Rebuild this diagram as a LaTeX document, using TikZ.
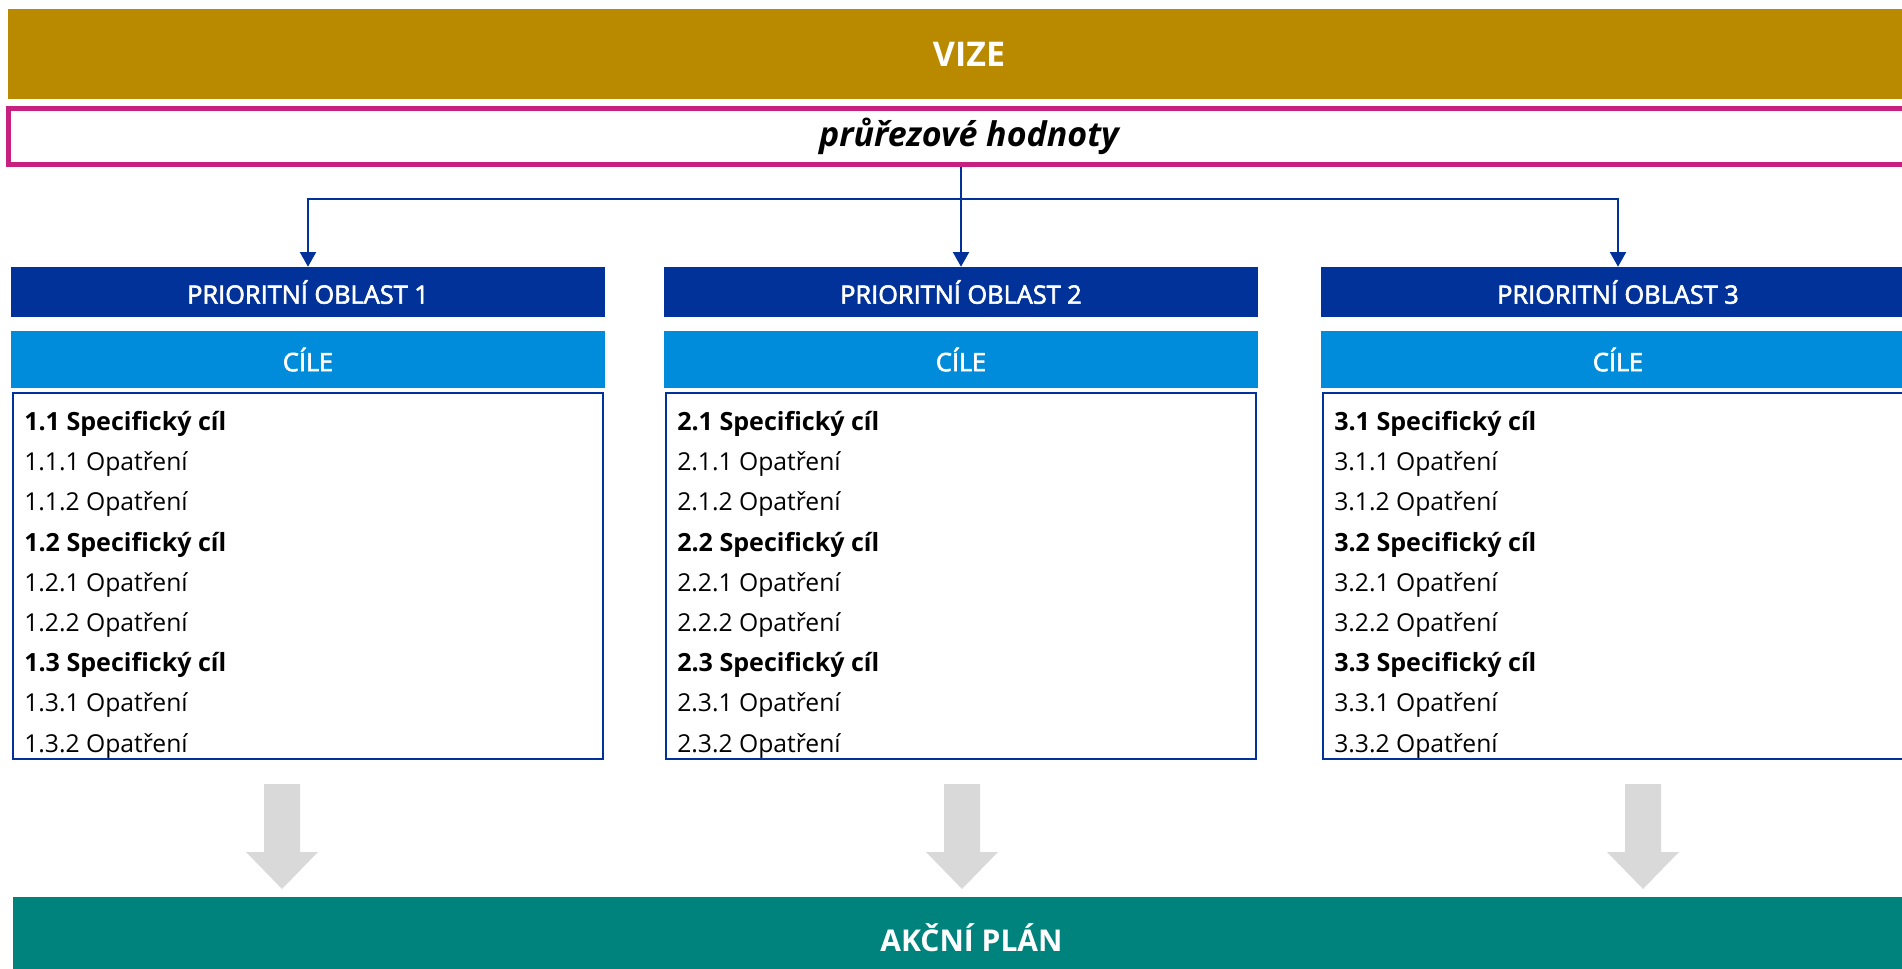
\documentclass[tikz,border=0pt]{standalone}
\usepackage{fontspec}
\setmainfont{Open Sans}
\newfontfamily\semibold[FakeBold=2.5]{Open Sans}
\usetikzlibrary{positioning}
\usetikzlibrary{arrows.meta}
\definecolor{vizegold}{RGB}{185,138,0}
\definecolor{hodnotypink}{RGB}{200,32,128}
\definecolor{oblastblue}{RGB}{0,50,153}
\definecolor{cileblue}{RGB}{0,140,218}
\definecolor{akcniteal}{RGB}{0,130,125}
\definecolor{arrowgrey}{RGB}{217,217,217}
\newcommand{\greyarrow}[1]% centre x
{(#1-18,784) -- (#1+18,784) -- (#1+18,852) -- (#1+36,852) -- (#1,889) -- (#1-36,852) -- (#1-18,852) -- cycle
}

\begin{document}
\begin{tikzpicture}[x=0.75pt,y=-0.75pt] % 1 unit = 1 px
\tikzstyle{bar}=[shape=rectangle,inner sep=0pt,minimum height=67.5pt,text=white,font=\bfseries\fontsize{25.5}{30}\selectfont]
\tikzstyle{po}=[shape=rectangle,inner sep=0pt,fill=oblastblue,minimum width=445.5pt,minimum height=37.5pt,text=white,font=\semibold\fontsize{19}{23}\selectfont]
\tikzstyle{cile}=[po,fill=cileblue,minimum height=42.75pt]
\tikzstyle{obsah}=[shape=rectangle,inner sep=0pt,draw=oblastblue,line width=1.5pt,minimum width=443pt,minimum height=274.5pt]
\tikzstyle{opatreni}=[anchor=west,inner sep=0pt,font=\fontsize{18.5}{22}\selectfont]
\tikzstyle{cil}=[opatreni,font=\bfseries\fontsize{18.8}{22}\selectfont]
\tikzstyle{conn}=[draw=oblastblue,line width=1.5pt]
\tikzstyle{tip}=[-{Triangle[width=12pt,length=11pt]}]

\useasboundingbox (0,0) rectangle (1902,968);
\clip (0,0) rectangle (1902,968);

\node[bar,fill=vizegold,minimum width=1441.5pt] (vize) at (969,54) {VIZE}; % top band
\node[draw=hodnotypink,line width=3.75pt,inner sep=0pt,minimum width=1441.5pt,minimum height=42pt,
  font=\bfseries\itshape\fontsize{25.5}{30}\selectfont] (hodnoty) at (969,136) {průřezové hodnoty}; % pink frame

% three priority columns
\foreach \a/\cx in {1/308,2/961,3/1618} {
  \node[po] (po\a) at (\cx,292) {PRIORITNÍ OBLAST \a};
  \node[cile] (cile\a) at (\cx,359.5) {CÍLE};
  \node[obsah] (obsah\a) at (\cx,576) {};
  \foreach \b in {1,2,3} {
    \node[cil] (cil\a\b) at (\cx-284,{424+(\b-1)*120.6}) {\a.\b\ Specifický cíl};
    \node[opatreni] (op\a\b1) at (\cx-284,{464.2+(\b-1)*120.6}) {\a.\b.1 Opatření};
    \node[opatreni] (op\a\b2) at (\cx-284,{504.4+(\b-1)*120.6}) {\a.\b.2 Opatření};
  }
}

% blue connectors
\coordinate (hub) at (963,199);
\draw[conn,tip] (hodnoty.south -| po2.north) -- (po2.north);
\draw[conn,{Triangle[width=12pt,length=11pt]}-{Triangle[width=12pt,length=11pt]}] (po1.north) |- (hub) -| (po3.north);

% grey block arrows
\fill[arrowgrey] \greyarrow{282};
\fill[arrowgrey] \greyarrow{962};
\fill[arrowgrey] \greyarrow{1643};

\node[bar,fill=akcniteal,minimum width=1437.75pt,minimum height=61.5pt,font=\bfseries\fontsize{22.5}{27}\selectfont] (akcni) at (971.5,938) {AKČNÍ PLÁN}; % bottom band
\end{tikzpicture}
\end{document}
